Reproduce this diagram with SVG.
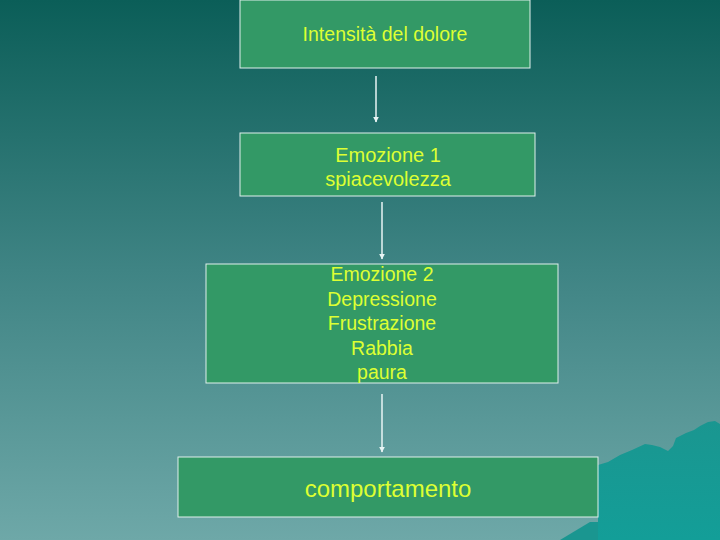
<svg xmlns="http://www.w3.org/2000/svg" width="720" height="540" viewBox="0 0 720 540">
<defs>
<linearGradient id="bg" x1="0" y1="0" x2="0" y2="1">
<stop offset="0" stop-color="#0b5e58"/>
<stop offset="0.5" stop-color="#3f8484"/>
<stop offset="1" stop-color="#6ea8a8"/>
</linearGradient>
<linearGradient id="mt" x1="0" y1="0" x2="0" y2="1">
<stop offset="0" stop-color="#1a9690"/>
<stop offset="1" stop-color="#139e98"/>
</linearGradient>
<marker id="ah" viewBox="0 0 10 10" refX="9" refY="5" markerWidth="4" markerHeight="4" orient="auto">
<path d="M0,0 L10,5 L0,10 z" fill="#e8f4f4"/>
</marker>
<style>
.box{fill:#339966;stroke:#e0f0ec;stroke-width:1}
.t{font-family:"Liberation Sans",Arial,sans-serif;fill:#ddff33;text-anchor:middle}
.c{stroke:#e8f4f4;stroke-width:1.5;fill:none;marker-end:url(#ah)}
</style>
</defs>
<rect width="720" height="540" fill="url(#bg)"/>
<path d="M598,465 L608,462 L620,455 L632,450 L645,444 L652,445 L660,447 L668,451 L673,446 L676,438 L686,433 L694,430 L700,426 L708,422 L715,421 L720,424 L720,540 L598,540 Z" fill="url(#mt)"/>
<path d="M560,540 L590,522 L598,522 L598,540 Z" fill="#1a9690"/>
<g id="node1"><rect class="box" x="240" y="0" width="290" height="68"/><text class="t" x="385" y="41" font-size="19.5">Intensità del dolore</text></g>
<g id="node2"><rect class="box" x="240" y="133" width="295" height="63"/><text class="t" x="388" y="162" font-size="20">Emozione 1</text><text class="t" x="388" y="186" font-size="20">spiacevolezza</text></g>
<g id="node3"><rect class="box" x="206" y="264" width="352" height="119"/>
<text class="t" x="382" y="281" font-size="19.5">Emozione 2</text>
<text class="t" x="382" y="306" font-size="19.5">Depressione</text>
<text class="t" x="382" y="330" font-size="19.5">Frustrazione</text>
<text class="t" x="382" y="355" font-size="19.5">Rabbia</text>
<text class="t" x="382" y="379" font-size="19.5">paura</text></g>
<g id="node4"><rect class="box" x="178" y="457" width="420" height="60"/><text class="t" x="388" y="497" font-size="24">comportamento</text></g>
<g id="connectors">
<line class="c" x1="376" y1="76" x2="376" y2="122"/>
<line class="c" x1="382" y1="202" x2="382" y2="259"/>
<line class="c" x1="382" y1="394" x2="382" y2="452"/>
</g>
</svg>
